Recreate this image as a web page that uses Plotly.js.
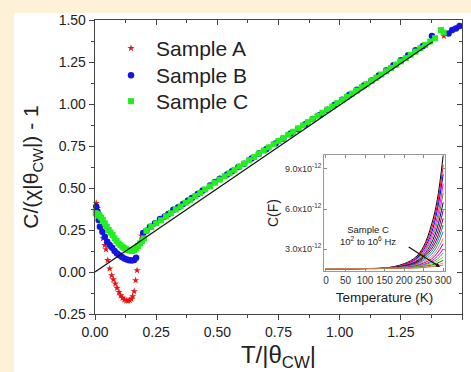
<!DOCTYPE html>
<html>
<head>
<meta charset="utf-8">
<script src="https://cdn.plot.ly/plotly-3.0.1.min.js"></script>
<style>html,body{margin:0;padding:0;background:#fdf1d8;}#chart{width:471px;height:372px;}</style>
</head>
<body>
<div id="chart"></div>
<script>
// ---- main panel data ----
const sampleA_x = [0.005,0.01,0.015,0.02,0.027,0.033,0.04,0.045,0.052,0.06,0.068,0.075,0.083,0.09,0.098,0.105,0.113,0.12,0.128,0.135,0.142,0.148,0.154,0.16,0.166,0.172,
  0.19,0.23,0.27,0.31,0.35,0.39,0.43,0.47,0.51,0.55,0.59,0.63,0.67,0.71,0.75,0.79,0.83,0.87,0.91,0.95,0.99,1.03,1.07,1.11,1.15,1.19,1.23,1.27,1.31,1.35,1.426];
const sampleA_y = [0.41,0.38,0.35,0.32,0.27,0.2,0.16,0.135,0.07,0.02,-0.02,-0.045,-0.07,-0.095,-0.12,-0.14,-0.155,-0.165,-0.17,-0.172,-0.168,-0.16,-0.145,-0.115,-0.05,0.01,
  0.215,0.265,0.31,0.35,0.39,0.43,0.47,0.51,0.55,0.59,0.628,0.665,0.705,0.742,0.78,0.817,0.855,0.89,0.93,0.967,1.004,1.042,1.08,1.118,1.156,1.195,1.234,1.273,1.312,1.35,1.405];

const sampleB_x = [0.005,0.01,0.015,0.02,0.03,0.04,0.05,0.06,0.07,0.08,0.09,0.10,0.11,0.12,0.13,0.14,0.15,0.16,0.168,
  0.197,0.21,0.225,0.245,0.266,0.285,0.30,0.32,0.34,0.36,0.38,0.396,0.42,0.44,0.47,0.49,0.51,0.54,0.56,0.586,0.61,0.64,0.67,0.70,0.738,0.77,0.80,0.83,0.86,0.89,0.92,0.95,0.98,1.01,1.04,1.07,1.10,1.13,1.16,1.19,1.22,1.25,1.28,1.31,1.34,1.377,1.445,1.46,1.475,1.49];
const sampleB_y = [0.39,0.36,0.31,0.27,0.24,0.21,0.18,0.16,0.145,0.125,0.11,0.10,0.09,0.08,0.075,0.07,0.068,0.072,0.085,
  0.232,0.245,0.27,0.29,0.315,0.33,0.345,0.37,0.385,0.405,0.425,0.44,0.465,0.485,0.515,0.535,0.555,0.58,0.60,0.625,0.645,0.675,0.705,0.73,0.765,0.795,0.825,0.85,0.88,0.91,0.935,0.965,0.995,1.025,1.055,1.085,1.11,1.14,1.17,1.2,1.23,1.26,1.29,1.32,1.345,1.405,1.42,1.44,1.45,1.465];

const sampleC_x = [0.003,0.008,0.013,0.018,0.025,0.032,0.04,0.048,0.056,0.064,0.072,0.08,0.088,0.096,0.104,0.112,0.12,0.128,0.136,0.144,0.152,0.16,0.168,0.176,0.184,0.192,0.20,
  0.21,0.23,0.25,0.27,0.29,0.31,0.33,0.35,0.37,0.39,0.41,0.43,0.45,0.47,0.49,0.51,0.53,0.55,0.57,0.59,0.61,0.63,0.65,0.67,0.69,0.71,0.73,0.75,0.77,0.79,0.81,0.83,0.85,0.87,0.89,0.91,0.93,0.95,0.97,0.99,1.01,1.03,1.05,1.07,1.09,1.11,1.13,1.15,1.17,1.19,1.21,1.23,1.25,1.27,1.29,1.31,1.33,1.35,1.37,1.39,1.414,1.425];
const sampleC_y = [0.35,0.345,0.34,0.335,0.325,0.31,0.29,0.27,0.25,0.235,0.22,0.2,0.185,0.17,0.16,0.15,0.142,0.135,0.13,0.127,0.125,0.13,0.14,0.155,0.17,0.185,0.2,
  0.245,0.268,0.29,0.308,0.332,0.35,0.372,0.39,0.412,0.43,0.452,0.47,0.492,0.51,0.532,0.55,0.57,0.588,0.608,0.628,0.645,0.666,0.684,0.705,0.722,0.742,0.76,0.78,0.798,0.817,0.835,0.855,0.872,0.892,0.91,0.93,0.948,0.967,0.985,1.005,1.023,1.043,1.062,1.08,1.1,1.118,1.138,1.157,1.176,1.195,1.215,1.234,1.254,1.273,1.293,1.312,1.332,1.352,1.372,1.392,1.44,1.425];

const fitX = [0.0, 1.38];
const fitY = [0.0, 1.37];

const legendNames = ["Sample A", "Sample B", "Sample C"];
const xTickVals = [0, 0.25, 0.5, 0.75, 1.0, 1.25, 1.5];
const xTickText = ["0.00","0.25","0.50","0.75","1.00","1.25","1.50"];
const yTickVals = [-0.25, 0, 0.25, 0.5, 0.75, 1.0, 1.25, 1.5];
const yTickText = ["-0.25","0.00","0.25","0.50","0.75","1.00","1.25","1.50"];

// ---- inset data (capacitance vs temperature, Sample C, 10^2 to 10^6 Hz) ----
const insetT = [0, 100, 150, 200, 230, 250, 270, 285, 300];
const insetC = [ // units of 1e-12 F
  [1.52,1.54,1.57,1.90,2.40,3.20,4.80,6.70,10.0],
  [1.52,1.54,1.57,1.85,2.30,3.10,4.50,6.30,9.30],
  [1.52,1.54,1.57,1.80,2.25,2.95,4.20,5.90,8.60],
  [1.52,1.54,1.57,1.80,2.20,2.80,3.95,5.40,7.90],
  [1.52,1.54,1.56,1.78,2.10,2.70,3.70,5.00,7.20],
  [1.52,1.54,1.56,1.75,2.05,2.55,3.45,4.60,6.50],
  [1.52,1.54,1.56,1.72,2.00,2.45,3.20,4.20,5.90],
  [1.52,1.54,1.56,1.70,1.95,2.35,3.00,3.85,5.30],
  [1.52,1.54,1.56,1.68,1.90,2.25,2.80,3.55,4.80],
  [1.52,1.54,1.56,1.66,1.85,2.15,2.60,3.25,4.30],
  [1.52,1.54,1.56,1.64,1.80,2.05,2.40,2.95,3.80],
  [1.52,1.54,1.56,1.62,1.75,1.95,2.25,2.70,3.40],
  [1.52,1.54,1.55,1.60,1.70,1.85,2.10,2.45,3.00],
  [1.52,1.54,1.55,1.60,1.68,1.80,2.00,2.25,2.70],
  [1.52,1.54,1.55,1.58,1.65,1.75,1.90,2.10,2.40],
  [1.52,1.54,1.55,1.58,1.62,1.70,1.80,1.95,2.15],
  [1.52,1.54,1.55,1.57,1.60,1.65,1.72,1.82,1.95],
  [1.52,1.53,1.54,1.56,1.58,1.62,1.67,1.72,1.80]
];
const insetColors = ['#000000','#ff0000','#0000ff','#ff00ff','#808000','#000080','#800080','#800000','#008080','#4169e1','#ff8000','#8000ff','#ff0080','#00b0b0','#c0c000','#008000','#ff80c0','#c08040'];
const insetYTickVals = [3.0e-12, 6.0e-12, 9.0e-12];
const insetYTickText = ["3.0x10<sup>-12</sup>","6.0x10<sup>-12</sup>","9.0x10<sup>-12</sup>"];
const insetXTickVals = [0,50,100,150,200,250,300];

const FONT = "Liberation Sans, Arial, sans-serif";
const traces = [];
traces.push({x: sampleA_x, y: sampleA_y, name: legendNames[0], type: 'scatter', mode: 'markers', legend: 'legend',
  marker: {symbol: 'star', size: 5.5, color: '#ee1111'}, cliponaxis: false});
traces.push({x: sampleB_x, y: sampleB_y, name: legendNames[1], type: 'scatter', mode: 'markers', legend: 'legend2',
  marker: {symbol: 'circle', size: 6.5, color: '#1515e0'}, cliponaxis: false});
traces.push({x: sampleC_x, y: sampleC_y, name: legendNames[2], type: 'scatter', mode: 'markers', legend: 'legend3',
  marker: {symbol: 'square', size: 6, color: '#22ee22'}, cliponaxis: false});
traces.push({x: fitX, y: fitY, type: 'scatter', mode: 'lines', showlegend: false,
  line: {color: '#111111', width: 1.2}});
insetC.forEach((row, i) => {
  traces.push({x: insetT, y: row.map(v => v * 1e-12), type: 'scatter', mode: 'lines', xaxis: 'x2', yaxis: 'y2',
    showlegend: false, line: {color: insetColors[i % insetColors.length], width: 1, shape: 'spline'}});
});
traces.push({x: [], y: [], xaxis: 'x3', yaxis: 'y3', showlegend: false, type: 'scatter'});

const axisCol = '#444';
function legendAt(y) {
  return {x: 0.030, y: y, xanchor: 'left', yanchor: 'top', bgcolor: 'rgba(0,0,0,0)',
    font: {size: 21, family: FONT, color: '#222'}, itemwidth: 40};
}
const layout = {
  width: 471, height: 372,
  paper_bgcolor: '#fdf1d8', plot_bgcolor: '#ffffff',
  margin: {l: 95, r: 9, t: 20, b: 58},
  font: {family: FONT, color: '#222'},
  showlegend: true,
  legend: legendAt(0.9728),
  legend2: legendAt(0.881),
  legend3: legendAt(0.7925),
  xaxis: {domain: [0, 1], range: [0, 1.5], tickvals: xTickVals, ticktext: xTickText, ticks: 'outside', ticklen: 5,
    tickcolor: axisCol, showline: true, linecolor: axisCol, linewidth: 1.3, mirror: true, showgrid: false, zeroline: false,
    tickfont: {size: 14}, minor: {dtick: 0.125, tick0: 0, ticks: 'outside', ticklen: 3, tickcolor: axisCol, showgrid: false},
    title: {text: 'T/|θ<sub>CW</sub>|', font: {size: 24}, standoff: 12}},
  yaxis: {domain: [0, 1], range: [-0.25, 1.5], tickvals: yTickVals, ticktext: yTickText, ticks: 'outside', ticklen: 5,
    tickcolor: axisCol, showline: true, linecolor: axisCol, linewidth: 1.3, mirror: true, showgrid: false, zeroline: false,
    tickfont: {size: 14}, minor: {dtick: 0.125, tick0: 0, ticks: 'outside', ticklen: 3, tickcolor: axisCol, showgrid: false},
    title: {text: 'C/(χ|θ<sub>CW</sub>|) - 1', font: {size: 21}, standoff: 9}},
  xaxis3: {overlaying: 'x', side: 'top', anchor: 'y3', range: [0, 1.5], tickvals: xTickVals, showticklabels: false,
    ticks: 'inside', ticklen: 5, tickcolor: axisCol, showgrid: false, zeroline: false, showline: false,
    minor: {dtick: 0.125, tick0: 0, ticks: 'inside', ticklen: 3, tickcolor: axisCol, showgrid: false}},
  yaxis3: {overlaying: 'y', side: 'right', anchor: 'x3', range: [-0.25, 1.5], tickvals: yTickVals, showticklabels: false,
    ticks: 'inside', ticklen: 5, tickcolor: axisCol, showgrid: false, zeroline: false, showline: false,
    minor: {dtick: 0.125, tick0: 0, ticks: 'inside', ticklen: 3, tickcolor: axisCol, showgrid: false}},
  xaxis2: {domain: [0.624, 0.954], anchor: 'y2', range: [-5, 305], tickvals: insetXTickVals, ticks: 'inside', ticklen: 3,
    tickangle: 0, tickcolor: '#888', showline: true, linecolor: '#999', linewidth: 1, mirror: 'ticks', showgrid: false, zeroline: false,
    tickfont: {size: 10, color: '#333'}, title: {text: 'Temperature (K)', font: {size: 13.5, color: '#222'}, standoff: 7}},
  yaxis2: {domain: [0.146, 0.541], anchor: 'x2', range: [1.35e-12, 10.05e-12], tickvals: insetYTickVals, ticktext: insetYTickText,
    ticks: 'inside', ticklen: 3, tickcolor: '#888', showline: true, linecolor: '#999', linewidth: 1, mirror: 'ticks',
    showgrid: false, zeroline: false, tickfont: {size: 9, color: '#333'},
    title: {text: 'C(F)', font: {size: 14, color: '#222'}, standoff: 3}},
  shapes: [
    {type: 'rect', xref: 'paper', yref: 'paper', x0: -0.2207, x1: 1.1, y0: -0.3, y1: 1.0238,
     fillcolor: '#ffffff', line: {width: 0}, layer: 'below'}
  ],
  annotations: [
    {xref: 'x2', yref: 'y2', x: 108, y: 4.05e-12, text: 'Sample C<br>10<sup>2</sup> to 10<sup>6</sup> Hz', showarrow: false,
     font: {size: 9.5, color: '#222'}, align: 'center'},
    {xref: 'x2', yref: 'y2', axref: 'x2', ayref: 'y2', x: 292, y: 1.65e-12, ax: 208, ay: 3.23e-12, text: '', showarrow: true,
     arrowhead: 2, arrowsize: 0.7, arrowwidth: 1.2, arrowcolor: '#111'}
  ]
};
Plotly.newPlot('chart', traces, layout, {staticPlot: true, displayModeBar: false});
</script>
</body>
</html>
